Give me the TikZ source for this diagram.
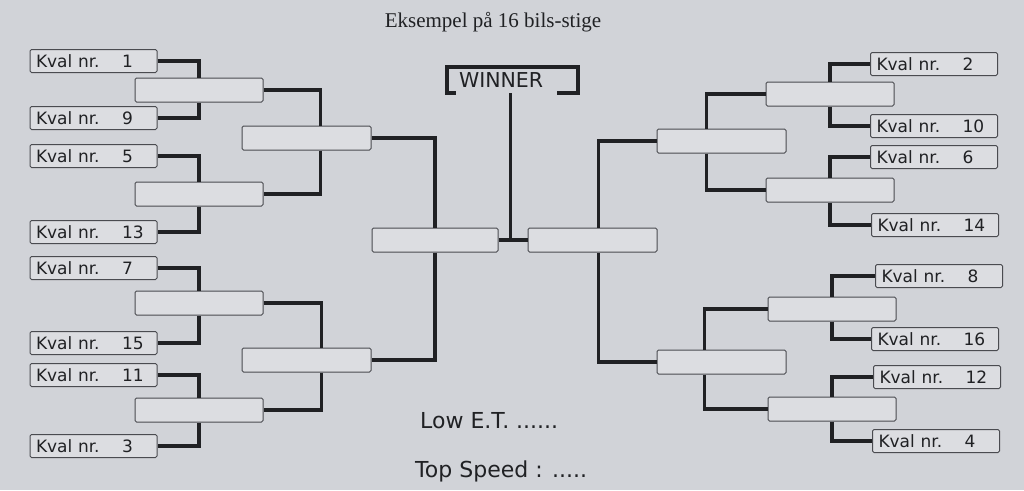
\documentclass[tikz,border=0pt]{standalone}
\usepackage{fontspec}
\setmainfont{Liberation Serif}
\newfontfamily\kvalfont{DejaVu Sans}
\usepackage{xcolor}
\usepackage{tikz}
\definecolor{Paper}{HTML}{D1D3D8}
\definecolor{Slot}{HTML}{DCDDE1}
\definecolor{Rim}{HTML}{4A4B50}
\definecolor{Ink}{HTML}{202124}

\begin{document}
\begin{tikzpicture}[
	x=1pt, y=-1pt,
	slot/.style = {draw=Rim, fill=Slot, rounded corners=1.5pt, line width=1pt, inner sep=0pt, minimum width=128pt, minimum height=24pt},
	kval/.style = {slot, minimum width=127pt, minimum height=23pt, text width=115pt, inner xsep=6pt, align=left, text=Ink, font=\kvalfont\fontsize{17}{17}\selectfont},
	bracket/.style = {draw=Ink, line width=3.6pt},
	label/.style = {text=Ink, font=\kvalfont\fontsize{22}{22}\selectfont, anchor=west, inner sep=0pt}
]
  \fill[Paper] (0,0) rectangle (1024,490);

  % Define title and footer
  \node[font=\fontsize{21}{21}\selectfont, text=Ink] at (493, 22) (title) {Eksempel på 16 bils-stige};
  \node[label] at (420, 421) (lowet) {Low E.T. ......};
  \node[label] at (415, 471) (topspeed) {Top Speed : .....};

  % Define winner
  \node[inner sep=0pt, minimum width=131pt, minimum height=26pt, text width=131pt, align=left, text=Ink, font=\kvalfont\fontsize{20.5}{20.5}\selectfont] at (512.5, 80) (win) {\hspace*{12pt}WINNER};
  \draw[bracket] ([xshift=9pt]win.south west) -- (win.south west) -- (win.north west) -- (win.north east) -- (win.south east) -- ([xshift=-21pt]win.south east);

  % Define slots
  \node[slot] at (199, 90) (la) {};
  \node[slot] at (199, 194) (lb) {};
  \node[slot] at (199, 303) (lc) {};
  \node[slot] at (199, 410) (ld) {};
  \node[slot, minimum width=129pt] at (306.5, 138) (lqa) {};
  \node[slot, minimum width=129pt] at (306.5, 360) (lqb) {};
  \node[slot, minimum width=126pt] at (435, 240) (ls) {};
  \node[slot, minimum width=129pt] at (592.5, 240) (rs) {};
  \node[slot, minimum width=129pt] at (721.5, 141) (rqa) {};
  \node[slot, minimum width=129pt] at (721.5, 362) (rqb) {};
  \node[slot] at (830, 94) (ra) {};
  \node[slot] at (830, 190) (rb) {};
  \node[slot] at (832, 309) (rc) {};
  \node[slot] at (832, 409) (rd) {};

  \node[kval] at (93.5, 61) (k1) {Kval nr.\hfill\makebox[29pt][l]{1}};
  \node[kval] at (93.5, 118) (k9) {Kval nr.\hfill\makebox[29pt][l]{9}};
  \node[kval] at (93.5, 156) (k5) {Kval nr.\hfill\makebox[29pt][l]{5}};
  \node[kval] at (93.5, 232) (k13) {Kval nr.\hfill\makebox[29pt][l]{13}};
  \node[kval] at (93.5, 268) (k7) {Kval nr.\hfill\makebox[29pt][l]{7}};
  \node[kval] at (93.5, 343) (k15) {Kval nr.\hfill\makebox[29pt][l]{15}};
  \node[kval] at (93.5, 375) (k11) {Kval nr.\hfill\makebox[29pt][l]{11}};
  \node[kval] at (93.5, 446) (k3) {Kval nr.\hfill\makebox[29pt][l]{3}};
  \node[kval] at (934, 64) (k2) {Kval nr.\hfill\makebox[29pt][l]{2}};
  \node[kval] at (934, 126) (k10) {Kval nr.\hfill\makebox[29pt][l]{10}};
  \node[kval] at (934, 157) (k6) {Kval nr.\hfill\makebox[29pt][l]{6}};
  \node[kval] at (935, 225) (k14) {Kval nr.\hfill\makebox[29pt][l]{14}};
  \node[kval] at (939, 276) (k8) {Kval nr.\hfill\makebox[29pt][l]{8}};
  \node[kval] at (935, 339) (k16) {Kval nr.\hfill\makebox[29pt][l]{16}};
  \node[kval] at (937, 377) (k12) {Kval nr.\hfill\makebox[29pt][l]{12}};
  \node[kval] at (936, 441) (k4) {Kval nr.\hfill\makebox[29pt][l]{4}};

  % left half
  \draw[bracket] (k1.east) -| (la.north);  \draw[bracket] (la.south) |- (k9.east);
  \draw[bracket] (k5.east) -| (lb.north);  \draw[bracket] (lb.south) |- (k13.east);
  \draw[bracket] (k7.east) -| (lc.north);  \draw[bracket] (lc.south) |- (k15.east);
  \draw[bracket] (k11.east) -| (ld.north); \draw[bracket] (ld.south) |- (k3.east);
  \draw[bracket] (la.east) -| ([xshift=14pt]lqa.north); \draw[bracket] ([xshift=14pt]lqa.south) |- (lb.east);
  \draw[bracket] (lc.east) -| ([xshift=15pt]lqb.north); \draw[bracket] ([xshift=15pt]lqb.south) |- (ld.east);
  \draw[bracket] (lqa.east) -| (ls.north); \draw[bracket] (ls.south) |- (lqb.east);

  % right half
  \draw[bracket] (k2.west) -| (ra.north);  \draw[bracket] (ra.south) |- (k10.west);
  \draw[bracket] (k6.west) -| (rb.north);  \draw[bracket] (rb.south) |- (k14.west);
  \draw[bracket] (k8.west) -| (rc.north);  \draw[bracket] (rc.south) |- (k16.west);
  \draw[bracket] (k12.west) -| (rd.north); \draw[bracket] (rd.south) |- (k4.west);
  \draw[bracket] (ra.west) -| ([xshift=-15pt]rqa.north); \draw[bracket] ([xshift=-15pt]rqa.south) |- (rb.west);
  \draw[bracket] (rc.west) -| ([xshift=-17pt]rqb.north); \draw[bracket] ([xshift=-17pt]rqb.south) |- (rd.west);
  \draw[bracket] (rqa.west) -| ([xshift=6pt]rs.north); \draw[bracket] ([xshift=6pt]rs.south) |- (rqb.west);

  % final
  \draw[bracket] (ls.east) -- (rs.west);
  \draw[bracket] ([xshift=-2pt]win.south) -- ([xshift=-2pt]win.south |- ls.east);
\end{tikzpicture}
\end{document}
